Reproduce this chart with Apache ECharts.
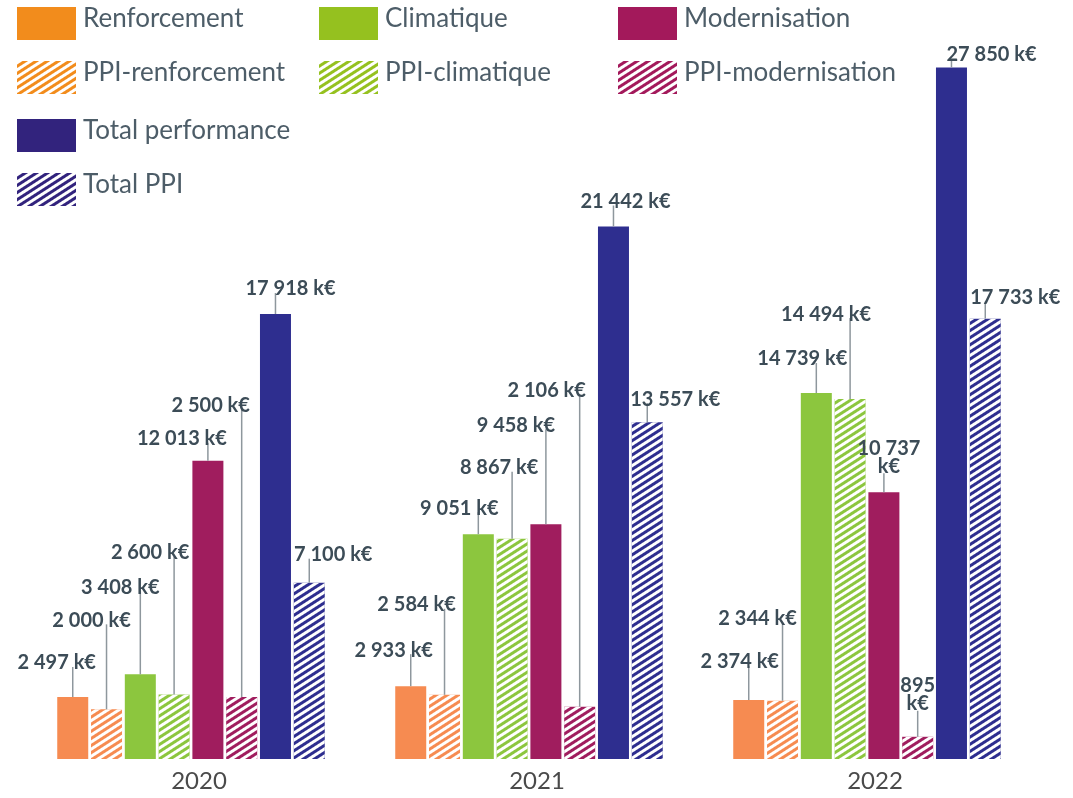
<!DOCTYPE html>
<html>
<head>
<meta charset="utf-8">
<script src="https://cdn.jsdelivr.net/npm/echarts@6/dist/echarts.min.js"></script>
<style>
html,body{margin:0;padding:0;background:#fff;}
#chart{width:1073px;height:798px;}
</style>
</head>
<body>
<div id="chart"></div>
<script>
// ---------- data ----------
var years = ['2020', '2021', '2022'];
var seriesNames = ['Renforcement', 'PPI-renforcement', 'Climatique', 'PPI-climatique',
                   'Modernisation', 'PPI-modernisation', 'Total performance', 'Total PPI'];
var renforcement      = [2497, 2933, 2374];
var ppiRenforcement   = [2000, 2584, 2344];
var climatique        = [3408, 9051, 14739];
var ppiClimatique     = [2600, 8867, 14494];
var modernisation     = [12013, 9458, 10737];
var ppiModernisation  = [2500, 2106, 895];
var totalPerformance  = [17918, 21442, 27850];
var totalPPI          = [7100, 13557, 17733];
var unit = 'k€';

var allValues = [renforcement, ppiRenforcement, climatique, ppiClimatique,
                 modernisation, ppiModernisation, totalPerformance, totalPPI];

// ---------- layout / style ----------
var barColors    = ['#F68B51', '#F68B51', '#8CC63E', '#8CC63E', '#A01D5E', '#A01D5E', '#2E2E8F', '#2E2E8F'];
var legendColors = ['#F28C1C', '#F28C1C', '#95C11F', '#95C11F', '#A3195B', '#A3195B', '#32237D', '#32237D'];
var hatched      = [false, true, false, true, false, true, false, true];
// label placement: lift above bar top (px), horizontal shift (px), per series per year
var labelLift = [[34, 36, 38], [89, 90, 82], [87, 26, 34], [142, 71, 85],
                 [22, 99, 35], [291, 316, 42], [25, 25, 13], [28, 23, 21]];
var labelDx   = [[-16, -17, -9], [-15, -28, -25], [-20, -19, -14], [-24, -13, -24],
                 [-26, -30, 5], [-31, -33, 0], [15, 12, 40], [24, 28, 30]];
var labelWrap = [[0,0,0],[0,0,0],[0,0,0],[0,0,0],[0,0,1],[0,0,1],[0,0,0],[0,0,0]];
var legendPos = [[17, 6], [17, 60], [319, 6], [319, 60], [618, 6], [618, 60], [17, 118], [17, 172]];

var BAR_W = 31, GAP = 0.09;
var FONT = 'Lato, "Open Sans", sans-serif';

function fmt(v) {
  return String(v).replace(/\B(?=(\d{3})+(?!\d))/g, ' ');
}

var decal = {
  symbol: 'rect', symbolSize: 1,
  dashArrayX: [1, 0], dashArrayY: [2.6, 2.4],
  rotation: -Math.PI / 5.5, color: '#ffffff'
};

var series = seriesNames.map(function (name, i) {
  var itemStyle = { color: barColors[i] };
  if (hatched[i]) itemStyle.decal = decal;
  return {
    name: name, type: 'bar',
    data: allValues[i],
    barWidth: BAR_W, barGap: (GAP * 100) + '%',
    itemStyle: itemStyle,
    silent: true
  };
});

var annData = [];
allValues.forEach(function (arr, s) {
  arr.forEach(function (v, c) { annData.push([c, s, v]); });
});

series.push({
  type: 'custom', name: 'labels', silent: true, z: 10,
  coordinateSystem: 'cartesian2d',
  encode: { x: 0, y: 2 },
  data: annData,
  renderItem: function (params, api) {
    var c = api.value(0), s = api.value(1), v = api.value(2);
    var base = api.coord([c, 0]);
    var top = api.coord([c, v])[1];
    var pitch = BAR_W * (1 + GAP);
    var x = base[0] + (s - 3.5) * pitch;
    var ly = top - labelLift[s][c];
    var wrap = labelWrap[s][c];
    return {
      type: 'group',
      children: [{
        type: 'line',
        shape: { x1: x, y1: top, x2: x, y2: ly + (wrap ? 16 : 4) },
        style: { stroke: '#8E979D', lineWidth: 1.5 }
      }, {
        type: 'text',
        style: {
          x: x + labelDx[s][c], y: ly,
          text: fmt(v) + (wrap ? '\n' : ' ') + unit,
          align: 'center', verticalAlign: 'middle',
          fill: '#3C4C57',
          font: 'bold 20px ' + FONT,
          lineHeight: 18
        }
      }]
    };
  }
});

var legends = seriesNames.map(function (name, i) {
  return {
    left: legendPos[i][0], top: legendPos[i][1], padding: 0,
    itemWidth: 59, itemHeight: 33, icon: 'rect',
    selectedMode: false,
    formatter: '{t|{name}}',
    textStyle: {
      fontSize: 26, color: '#4D5D68', fontFamily: FONT,
      rich: { t: { fontSize: 26, color: '#4D5D68', fontFamily: FONT, padding: [0, 0, 9, 2] } }
    },
    data: [{ name: name, itemStyle: { color: legendColors[i] } }]
  };
});

var chart = echarts.init(document.getElementById('chart'), null, { renderer: 'canvas' });
chart.setOption({
  animation: false,
  backgroundColor: '#ffffff',
  legend: legends,
  grid: { left: 22, right: 37, top: 14, bottom: 39 },
  xAxis: {
    type: 'category', data: years,
    axisLine: { show: false }, axisTick: { show: false },
    axisLabel: { fontSize: 24, color: '#4A4A4A', fontFamily: FONT, margin: 10, padding: [0, 0, 0, 16] }
  },
  yAxis: {
    type: 'value', min: 0, max: 30000, show: false,
    splitLine: { show: false }
  },
  series: series
});
</script>
</body>
</html>
